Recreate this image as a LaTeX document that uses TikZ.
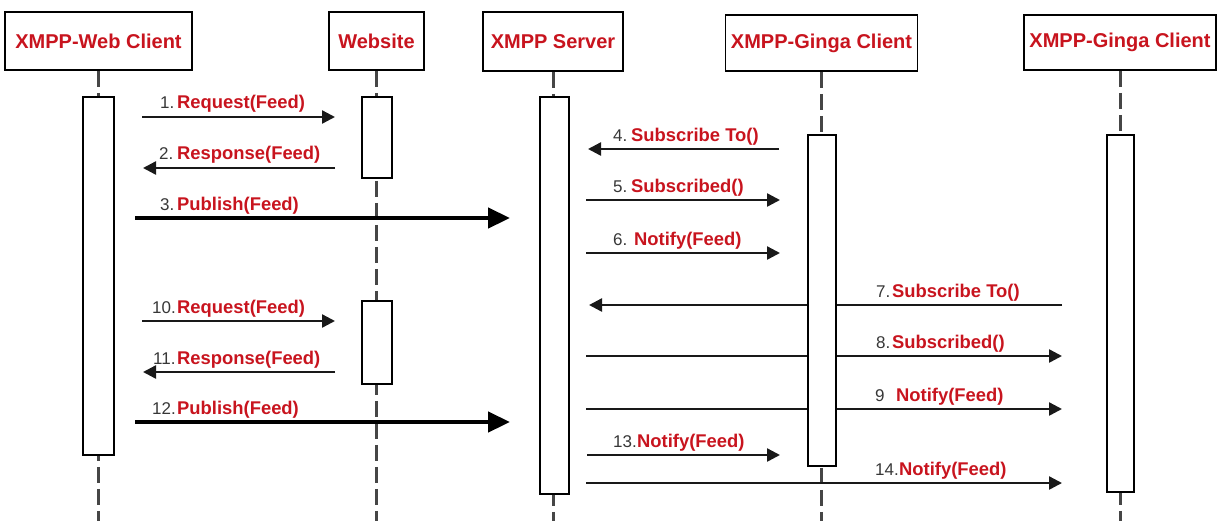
\documentclass[tikz,border=0pt]{standalone}
\usepackage{fontspec}
\setmainfont{Liberation Sans}
\usetikzlibrary{arrows.meta}
\definecolor{msgred}{RGB}{200,20,30}
\definecolor{numgray}{RGB}{55,55,55}
\definecolor{lifegray}{RGB}{70,70,70}

\begin{document}
\begin{tikzpicture}[x=1pt,y=-1pt,
  headbox/.style={draw=black, line width=1.6pt, fill=white, inner sep=0pt,
    font=\fontsize{20}{24}\selectfont\bfseries, text=msgred},
  actbox/.style={draw=black, line width=1.3pt, fill=white, inner sep=0pt},
  lifeline/.style={draw=lifegray, line width=3pt, dash pattern=on 16pt off 6pt},
  msg/.style={draw=black!90, line width=2.4pt, -{Triangle[length=13pt,width=13pt]}},
  bigmsg/.style={draw=black, line width=4.5pt, -{Triangle[length=22pt,width=20pt]}},
  msgnum/.style={anchor=base west, inner sep=0pt, text=numgray,
    font=\fontsize{17}{20}\selectfont},
  msgname/.style={anchor=base west, inner sep=0pt, text=msgred,
    font=\fontsize{18.4}{20}\selectfont\bfseries},
]
\useasboundingbox (0,0) rectangle (1222,520);

% participants
\node[headbox, minimum width=187pt, minimum height=58pt] (web) at (98.5,41) {XMPP-Web Client};
\node[headbox, minimum width=95pt, minimum height=58pt] (site) at (376.5,41) {Website};
\node[headbox, minimum width=140pt, minimum height=59pt] (srv) at (553,41.5) {XMPP Server};
\node[headbox, minimum width=192pt, minimum height=56pt] (g1) at (821.5,43) {XMPP-Ginga Client};
\node[headbox, minimum width=192pt, minimum height=55pt] (g2) at (1120,42.5) {XMPP-Ginga Client};

% lifelines
\coordinate (webend) at (98.5,522);
\coordinate (siteend) at (376.5,522);
\coordinate (srvend) at (553,522);
\coordinate (g1end) at (821.5,522);
\coordinate (g2end) at (1120,522);
\draw[lifeline] (web.south) -- (webend);
\draw[lifeline] (site.south) -- (siteend);
\draw[lifeline] (srv.south) -- (srvend);
\draw[lifeline] (g1.south) -- (g1end);
\draw[lifeline] (g2.south) -- (g2end);

% message end points
\coordinate (m1a) at (142,117);  \coordinate (m1b) at (335,117);
\coordinate (m2a) at (335,168);  \coordinate (m2b) at (143,168);
\coordinate (m3a) at (135,218);  \coordinate (m3b) at (510,218);
\coordinate (m4a) at (779,149);  \coordinate (m4b) at (588,149);
\coordinate (m5a) at (586,200);  \coordinate (m5b) at (780,200);
\coordinate (m6a) at (586,253);  \coordinate (m6b) at (780,253);
\coordinate (m7a) at (1062,305); \coordinate (m7b) at (589,305);
\coordinate (m8a) at (586,356);  \coordinate (m8b) at (1062,356);
\coordinate (m9a) at (586,409);  \coordinate (m9b) at (1062,409);
\coordinate (m10a) at (142,321); \coordinate (m10b) at (335,321);
\coordinate (m11a) at (335,372); \coordinate (m11b) at (143,372);
\coordinate (m12a) at (135,422); \coordinate (m12b) at (510,422);
\coordinate (m13a) at (587,455); \coordinate (m13b) at (780,455);
\coordinate (m14a) at (586,483); \coordinate (m14b) at (1062,483);

% messages
\draw[msg] (m1a) -- (m1b);
\draw[msg] (m2a) -- (m2b);
\draw[bigmsg] (m3a) -- (m3b);
\draw[msg] (m4a) -- (m4b);
\draw[msg] (m5a) -- (m5b);
\draw[msg] (m6a) -- (m6b);
\draw[msg] (m7a) -- (m7b);
\draw[msg] (m8a) -- (m8b);
\draw[msg] (m9a) -- (m9b);
\draw[msg] (m10a) -- (m10b);
\draw[msg] (m11a) -- (m11b);
\draw[bigmsg] (m12a) -- (m12b);
\draw[msg] (m13a) -- (m13b);
\draw[msg] (m14a) -- (m14b);

% message labels
\node[msgnum] (n1) at (160,108) {1.};   \node[msgname] (t1) at (177,108) {Request(Feed)};
\node[msgnum] (n2) at (159,159) {2.};   \node[msgname] (t2) at (177,159) {Response(Feed)};
\node[msgnum] (n3) at (160,210) {3.};   \node[msgname] (t3) at (177,210) {Publish(Feed)};
\node[msgnum] (n4) at (613,141) {4.};   \node[msgname] (t4) at (631,141) {Subscribe To()};
\node[msgnum] (n5) at (613,192) {5.};   \node[msgname] (t5) at (631,192) {Subscribed()};
\node[msgnum] (n6) at (613,245) {6.};   \node[msgname] (t6) at (634,245) {Notify(Feed)};
\node[msgnum] (n7) at (876,297) {7.};   \node[msgname] (t7) at (892,297) {Subscribe To()};
\node[msgnum] (n8) at (876,348) {8.};   \node[msgname] (t8) at (892,348) {Subscribed()};
\node[msgnum] (n9) at (875,401) {9};    \node[msgname] (t9) at (896,401) {Notify(Feed)};
\node[msgnum] (n10) at (152,313) {10.}; \node[msgname] (t10) at (177,313) {Request(Feed)};
\node[msgnum] (n11) at (153,364) {11.}; \node[msgname] (t11) at (177,364) {Response(Feed)};
\node[msgnum] (n12) at (152,414) {12.}; \node[msgname] (t12) at (177,414) {Publish(Feed)};
\node[msgnum] (n13) at (613,447) {13.}; \node[msgname] (t13) at (637,447) {Notify(Feed)};
\node[msgnum] (n14) at (875,475) {14.}; \node[msgname] (t14) at (899,475) {Notify(Feed)};

% activation bars
\node[actbox, minimum width=31pt, minimum height=358pt] (webact) at (98.5,276) {};
\node[actbox, minimum width=30pt, minimum height=81pt] (siteact1) at (377,137.5) {};
\node[actbox, minimum width=30pt, minimum height=83pt] (siteact2) at (377,342.5) {};
\node[actbox, minimum width=29pt, minimum height=397pt] (srvact) at (554.5,295.5) {};
\node[actbox, minimum width=28pt, minimum height=331pt] (g1act) at (822,300.5) {};
\node[actbox, minimum width=27pt, minimum height=357pt] (g2act) at (1120.5,313.5) {};
\end{tikzpicture}
\end{document}
